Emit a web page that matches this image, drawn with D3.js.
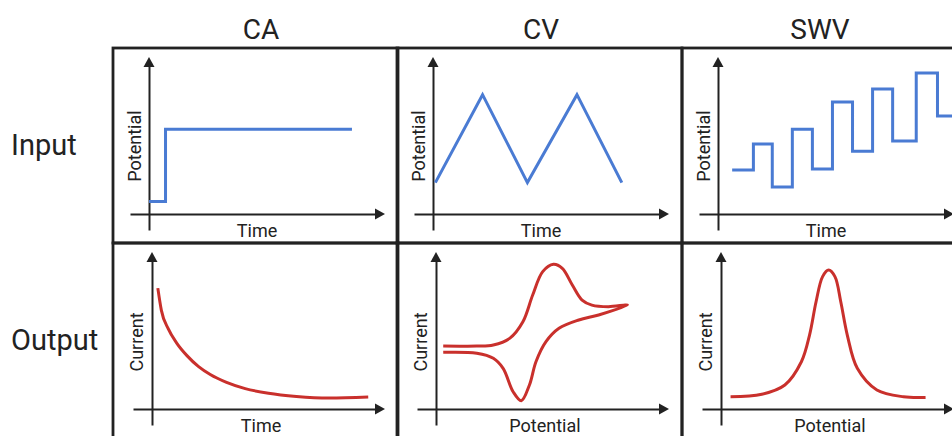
<!DOCTYPE html>
<html>
<head>
<meta charset="utf-8">
<script src="https://cdn.jsdelivr.net/npm/d3@7"></script>
<style>
  html, body { margin: 0; padding: 0; background: #fff; }
  svg { display: block; font-family: Roboto, "Noto Sans", sans-serif; }
</style>
</head>
<body>
<svg id="chart" width="952" height="436"></svg>
<script>
// --- donnees (unites arbitraires 0..100) ---
const colonnes = ["CA", "CV", "SWV"];
const lignes = ["Input", "Output"];

// CA entree : saut de potentiel
const caInT = [0, 7, 7, 86];
const caInE = [8, 8, 54, 54];

// CV entree : rampe triangulaire
const cvInT = [1, 21, 40, 61, 80];
const cvInE = [20, 76, 20, 76, 20];

// SWV entree : escalier + impulsions
const swvInT = [6, 15, 23, 31.5, 40, 48.5, 57, 65.5, 74, 84, 93, 104];
const swvInE = [28, 44.6, 17.2, 54, 28.7, 71.3, 40, 79.6, 46.5, 89.8, 62.4, 62.4];

// CA sortie : decroissance du courant
const caOutT = [2.5, 4, 7, 10.6, 15, 20, 25, 32, 40, 50, 62, 76, 92.8];
const caOutI = [77, 63, 51, 42, 34, 27, 22, 17, 13, 10, 8, 7, 7.6];

// CV sortie : voltammogramme (aller puis retour)
const cvOutE = [3.1, 17.5, 24.6, 31.6, 37.3, 41.5, 45.8, 50.4, 54.2, 58.5, 62.7, 66.9, 74, 82.2,
                69.8, 61.3, 52.8, 47.2, 42.9, 40.1, 36.6, 33.1, 28.8, 24.6, 17.5, 3.1];
const cvOutI = [40.1, 40.1, 40.8, 45, 55.6, 72.6, 87.5, 92.2, 89.6, 79, 69.4, 66.2, 65.2, 66.2,
                59.9, 56.7, 51.4, 42.9, 30.1, 15.3, 5.3, 11, 25.9, 32.3, 35.5, 36.1];

// SWV sortie : pic
const swvOutE = [4.1, 17.5, 27.4, 34.5, 38, 40.8, 43.6, 46.2, 48.9, 51.4, 54.2, 58.5, 66.9, 78.3, 87.8];
const swvOutI = [7.8, 9.4, 15.3, 30.1, 47.1, 68.3, 84.3, 88.5, 84.3, 68.3, 47.1, 25.9, 12.1, 7.8, 7.4];

const axeX = [["Time", "Time", "Time"], ["Time", "Potential", "Potential"]];
const axeY = [["Potential", "Potential", "Potential"], ["Current", "Current", "Current"]];

// --- mise en page ---
const colX = [113, 397, 682];
const rowY = [48, 243];
const panelW = 285, panelH = 195;
const titreDx = [148, 144, 138];
const bleu = "#4a7bd3", rouge = "#c9302c", encre = "#222";

const panneaux = [
  { r: 0, c: 0, t: caInT, v: caInE, col: bleu, courbe: d3.curveLinear },
  { r: 0, c: 1, t: cvInT, v: cvInE, col: bleu, courbe: d3.curveLinear },
  { r: 0, c: 2, t: swvInT, v: swvInE, col: bleu, courbe: d3.curveStepAfter },
  { r: 1, c: 0, t: caOutT, v: caOutI, col: rouge, courbe: d3.curveMonotoneX },
  { r: 1, c: 1, t: cvOutE, v: cvOutI, col: rouge, courbe: d3.curveCatmullRom },
  { r: 1, c: 2, t: swvOutE, v: swvOutI, col: rouge, courbe: d3.curveCatmullRom }
];

const svg = d3.select("#chart");

// titres des colonnes
svg.selectAll(".titre")
  .data(colonnes)
  .join("text")
  .attr("class", "titre")
  .attr("x", (d, i) => colX[i] + titreDx[i])
  .attr("y", 39)
  .attr("text-anchor", "middle")
  .attr("font-size", "28px")
  .attr("fill", encre)
  .text(d => d);

// titres des lignes
svg.selectAll(".ligne")
  .data(lignes)
  .join("text")
  .attr("class", "ligne")
  .attr("x", 11)
  .attr("y", (d, i) => [155, 350][i])
  .attr("font-size", "29px")
  .attr("fill", encre)
  .text(d => d);

panneaux.forEach(function (p) {
  const x0 = colX[p.c], y0 = rowY[p.r];
  const dxAxe = p.r === 0 ? 36 : 39;
  const g = svg.append("g").attr("transform", `translate(${x0},${y0})`);

  // cadre
  g.append("rect")
    .attr("width", panelW)
    .attr("height", panelH)
    .attr("fill", "none")
    .attr("stroke", encre)
    .attr("stroke-width", 2.8);

  const x = d3.scaleLinear().domain([0, 100]).range([dxAxe, 272]);
  const y = d3.scaleLinear().domain([0, 100]).range([166, 9]);

  // axes avec fleches (sans graduations)
  const fleche = 10;
  const ax = d3.scaleLinear().domain([x.invert(dxAxe - 19), x.invert(272 - fleche + 1)]).range([dxAxe - 19, 272 - fleche + 1]);
  const ay = d3.scaleLinear().domain([y.invert(182), y.invert(9 + fleche - 1)]).range([182, 9 + fleche - 1]);

  g.append("g")
    .attr("transform", `translate(0,${y(0)})`)
    .call(d3.axisBottom(ax).tickValues([]).tickSizeOuter(0))
    .call(s => s.select(".domain").attr("stroke", encre).attr("stroke-width", 2));
  g.append("g")
    .attr("transform", `translate(${x(0)},0)`)
    .call(d3.axisLeft(ay).tickValues([]).tickSizeOuter(0))
    .call(s => s.select(".domain").attr("stroke", encre).attr("stroke-width", 2));

  g.append("path")
    .attr("d", `M${x(100)},${y(0)}l${-fleche},-5.5v11z`)
    .attr("fill", encre);
  g.append("path")
    .attr("d", `M${x(0)},${y(100)}l-5.5,${fleche}h11z`)
    .attr("fill", encre);

  // libelles des axes
  g.append("text")
    .attr("x", p.r === 0 ? 144 : 148)
    .attr("y", p.r === 0 ? 189 : 189)
    .attr("text-anchor", "middle")
    .attr("font-size", "18px")
    .attr("fill", encre)
    .text(axeX[p.r][p.c]);
  g.append("text")
    .attr("transform", `translate(${p.r === 0 ? 28 : 30},${p.r === 0 ? 98 : 99}) rotate(-90)`)
    .attr("text-anchor", "middle")
    .attr("font-size", "18px")
    .attr("fill", encre)
    .text(axeY[p.r][p.c]);

  // courbe
  const pts = p.t.map((d, i) => [d, p.v[i]]);
  g.append("path")
    .datum(pts)
    .attr("d", d3.line().x(d => x(d[0])).y(d => y(d[1])).curve(p.courbe))
    .attr("fill", "none")
    .attr("stroke", p.col)
    .attr("stroke-width", 3)
    .attr("stroke-linejoin", "miter")
    .attr("stroke-linecap", "butt");
});
</script>
</body>
</html>
